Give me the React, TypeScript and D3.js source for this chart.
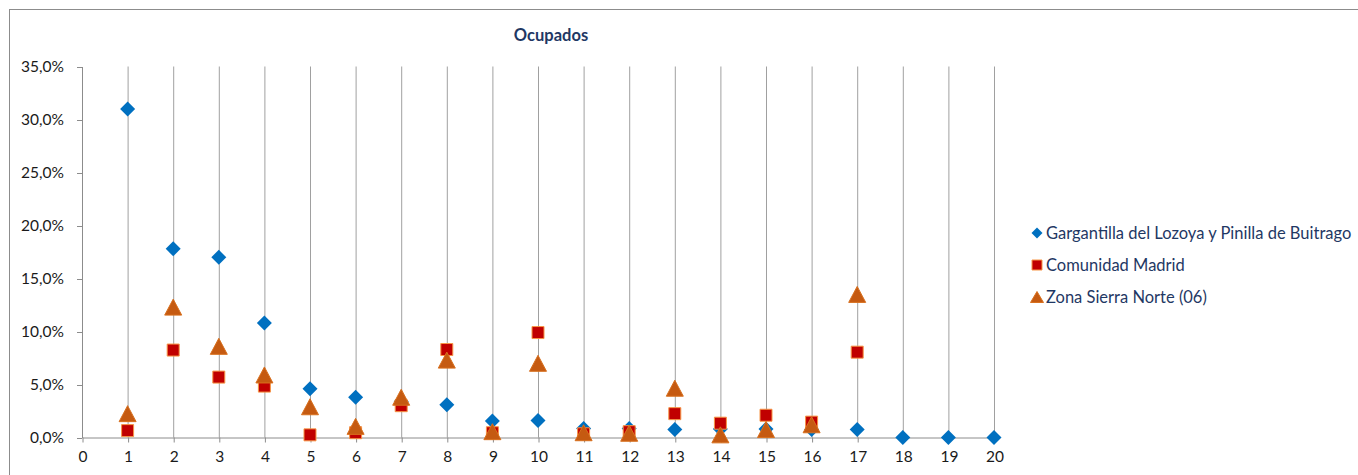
import { axisBottom, axisLeft, formatLocale, range, scaleLinear, select } from 'd3';
import React, { useEffect, useRef } from 'react';

const categories = range(0, 21);
const seriesNames = [
  'Gargantilla del Lozoya y Pinilla de Buitrago',
  'Comunidad Madrid',
  'Zona Sierra Norte (06)',
];
// values in %, index 0 => x = 1
const gargantilla = [31.0, 17.8, 17.0, 10.8, 4.6, 3.8, 3.4, 3.1, 1.55, 1.6, 0.85, 0.85, 0.75, 0.8, 0.8, 0.75, 0.75, 0, 0, 0];
const comunidad = [0.65, 8.25, 5.7, 4.85, 0.25, 0.45, 3.0, 8.3, 0.45, 9.9, 0.35, 0.55, 2.25, 1.35, 2.1, 1.45, 8.05, null, null, null];
const sierraNorte = [2.25, 12.3, 8.6, 5.9, 2.9, 1.05, 3.8, 7.3, 0.55, 7.0, 0.45, 0.4, 4.65, 0.25, 0.75, 1.2, 13.5, null, null, null];
const yTicks = [0, 5, 10, 15, 20, 25, 30, 35];

const W = 1358;
const H = 475;
const left = 82;
const right = 994;
const top = 66.5;
const bottom = 437.5;
const font = 'Lato, "Open Sans", sans-serif';
const navy = '#1F3864';

const es = formatLocale({ decimal: ',', thousands: '.', grouping: [3], currency: ['', '€'] });
const fmt = es.format('.1f');

const x = scaleLinear().domain([0, 20]).range([left, right]);
const y = scaleLinear().domain([0, 35]).range([bottom, top]);

const diamond = (cx: number, cy: number, r = 7.5) =>
  `M${cx},${cy - r}L${cx + r},${cy}L${cx},${cy + r}L${cx - r},${cy}Z`;
const square = (cx: number, cy: number, s = 12) =>
  `M${cx - s / 2},${cy - s / 2}h${s}v${s}h${-s}Z`;
const triangle = (cx: number, cy: number, w = 17, h = 16) =>
  `M${cx},${cy - h / 2}L${cx + w / 2},${cy + h / 2}L${cx - w / 2},${cy + h / 2}Z`;

const App = () => {
  const xRef = useRef<SVGGElement>(null);
  const yRef = useRef<SVGGElement>(null);

  useEffect(() => {
    const gx = select(xRef.current);
    gx.call(
      axisBottom(x)
        .tickValues(categories)
        .tickSize(5)
        .tickPadding(8)
        .tickFormat((d) => String(d))
    );
    gx.select('.domain').attr('stroke', '#8c8c8c').attr('d', `M${left},0.5H${right}`);
    gx.selectAll('.tick line').attr('stroke', '#8c8c8c');
    gx.selectAll('.tick text')
      .attr('font-family', font)
      .attr('font-size', 15.5)
      .attr('fill', '#1a1a1a');

    const gy = select(yRef.current);
    gy.call(
      axisLeft(y)
        .tickValues(yTicks)
        .tickSize(5)
        .tickPadding(13)
        .tickFormat((d) => fmt(d as number) + '%')
    );
    gy.select('.domain').attr('stroke', '#8c8c8c').attr('d', `M0.5,${bottom}V${top}`);
    gy.selectAll('.tick line').attr('stroke', '#8c8c8c');
    gy.selectAll('.tick text')
      .attr('font-family', font)
      .attr('font-size', 15.5)
      .attr('fill', '#1a1a1a');
  }, []);

  return (
    <svg
      width={W}
      height={H}
      style={{ position: 'absolute', left: 0, top: 0, background: '#fff' }}
    >
      <rect x={9.5} y={9.5} width={W + 20} height={H + 20} fill="#fff" stroke="#8c8c8c" />
      <text x={551} y={41} textAnchor="middle" fontFamily={font} fontWeight="bold" fontSize={16.5} fill={navy}>
        Ocupados
      </text>

      {categories.slice(1).map((c) => (
        <line key={c} x1={x(c) + 0.5} x2={x(c) + 0.5} y1={top} y2={bottom} stroke="#a0a0a0" />
      ))}

      <g ref={xRef} transform={`translate(0.5,${bottom})`} />
      <g ref={yRef} transform={`translate(${left},0.5)`} />

      {gargantilla.map((v, i) =>
        v == null ? null : <path key={'g' + i} d={diamond(x(i + 1), y(v))} fill="#0070C0" />
      )}
      {comunidad.map((v, i) =>
        v == null ? null : (
          <path key={'c' + i} d={square(x(i + 1), y(v))} fill="#C00000" stroke="#F79646" strokeWidth={1} />
        )
      )}
      {sierraNorte.map((v, i) =>
        v == null ? null : (
          <path key={'s' + i} d={triangle(x(i + 1), y(v))} fill="#C55A11" stroke="#D8701E" strokeWidth={1} />
        )
      )}

      <g fontFamily={font} fontSize={16.5} fill={navy}>
        {seriesNames.map((name, i) => {
          const cy = 233 + i * 32;
          const mk =
            i === 0 ? (
              <path d={diamond(1037, cy, 5.5)} fill="#0070C0" />
            ) : i === 1 ? (
              <path d={square(1037, cy, 10)} fill="#C00000" stroke="#F79646" />
            ) : (
              <path d={triangle(1037, cy, 13, 11)} fill="#C55A11" stroke="#D8701E" />
            );
          return (
            <g key={name}>
              {mk}
              <text x={1046} y={cy} dy="0.35em">
                {name}
              </text>
            </g>
          );
        })}
      </g>
    </svg>
  );
};

export default App;
